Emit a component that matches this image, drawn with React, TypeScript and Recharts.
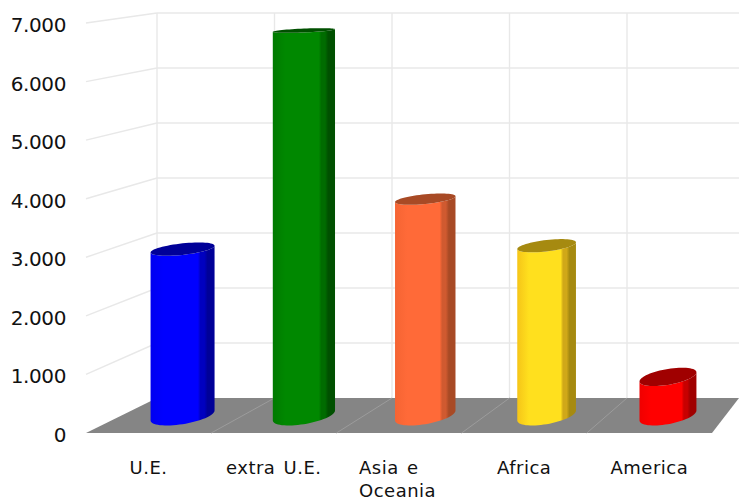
import { BarChart, Bar, XAxis, YAxis, CartesianGrid } from "recharts";

const categories = ["U.E.", "extra U.E.", "Asia e\nOceania", "Africa", "America"];
const values = [2930, 6780, 3810, 2990, 680];
const yTicks = [0, 1000, 2000, 3000, 4000, 5000, 6000, 7000];

const lightColors = ["#0000f0", "#007a00", "#f56433", "#f5c518", "#f00000"];
const mainColors = ["#0000ff", "#008800", "#ff6a38", "#ffe01e", "#ff0000"];
const midColors = ["#0000c0", "#006c00", "#d05a30", "#d0a818", "#c80000"];
const darkColors = ["#000098", "#005000", "#a84a25", "#a68a10", "#a00000"];

const chartData = categories.map((name, i) => ({ name, value: values[i] }));

const W = 739;
const H = 501;
const LEFT = 86;
const RIGHT = 712;
const TOP = 23;
const BOTTOM = 433;

// back wall, the front plane is what the axes scale to
const BACK_LEFT = 157;
const BACK_TOP = 13;
const BACK_BOTTOM = 398;
const BACK_STEP = 117.5;
const FRONT_STEP = (RIGHT - LEFT) / categories.length;

const GRID = "#e8e8e8";

const backY = (y: number) =>
    BACK_TOP + ((y - TOP) / (BOTTOM - TOP)) * (BACK_BOTTOM - BACK_TOP);

function WallLine({ y1 }: any) {
    const by = backY(y1);
    if (Math.abs(y1 - BOTTOM) < 1) {
        return (
            <polygon
                points={`${LEFT},${BOTTOM} ${RIGHT},${BOTTOM} ${W},${BACK_BOTTOM} ${BACK_LEFT},${BACK_BOTTOM}`}
                fill="#858585"
            />
        );
    }
    return (
        <g>
            <line x1={LEFT} y1={y1} x2={BACK_LEFT} y2={by} stroke={GRID} strokeWidth={1.4} />
            <line x1={BACK_LEFT} y1={by} x2={W} y2={by} stroke={GRID} strokeWidth={1.4} />
        </g>
    );
}

function WallColumn({ x1 }: any) {
    const edge = x1 - FRONT_STEP / 2;
    const backX = BACK_LEFT + ((edge - LEFT) * BACK_STEP) / FRONT_STEP;
    return (
        <g>
            <line x1={backX} y1={BACK_TOP} x2={backX} y2={BACK_BOTTOM} stroke={GRID} strokeWidth={1.4} />
            {edge > LEFT + 1 && <line x1={edge} y1={BOTTOM} x2={backX} y2={BACK_BOTTOM} stroke="#9c9c9c" />}
        </g>
    );
}

function YTick({ y, payload }: any) {
    return (
        <text x={66} y={y + 9} textAnchor="end" fontFamily="DejaVu Sans" fontSize={20} letterSpacing={-0.4} fill="#111">
            {payload.value.toLocaleString("de-DE")}
        </text>
    );
}

function XTick({ x, payload }: any) {
    const lines = String(payload.value).split("\n");
    return (
        <g>
            {lines.map((line, i) => (
                <text
                    key={line}
                    x={lines.length > 1 ? x - 40 : x}
                    y={474 + i * 23}
                    textAnchor={lines.length > 1 ? "start" : "middle"}
                    fontFamily="DejaVu Sans"
                    fontSize={18}
                    letterSpacing={0.5}
                    wordSpacing={2}
                    fill="#111"
                >
                    {line}
                </text>
            ))}
        </g>
    );
}

// half of a sheared ellipse, so the sides of the cylinder stay vertical
function arcPoints(cx: number, cy: number, rx: number, from: number, to: number) {
    const ry = 1.4 + cy * 0.0175;
    const shear = 1 + cy * 0.0095;
    const pts: string[] = [];
    for (let k = 0; k <= 32; k++) {
        const t = from + ((to - from) * k) / 32;
        pts.push(`${(cx + rx * Math.cos(t)).toFixed(2)},${(cy + ry * Math.sin(t) - shear * Math.cos(t)).toFixed(2)}`);
    }
    return pts;
}

function Cylinder({ x, y, width, height, index }: any) {
    const frontCx = x + width / 2;
    const backCx = BACK_LEFT + ((frontCx - LEFT) * BACK_STEP) / FRONT_STEP;
    const cx = (frontCx + backCx) / 2;
    const rx = (width * (1 - (frontCx - 148) * 0.00022)) / 2;
    const baseY = (BOTTOM + BACK_BOTTOM) / 2;
    const topY = baseY - (height * (BOTTOM - TOP + BACK_BOTTOM - BACK_TOP)) / 2 / (BOTTOM - TOP);
    const topLower = arcPoints(cx, topY, rx, 0, Math.PI);
    const baseLower = arcPoints(cx, baseY, rx, Math.PI, 0);
    const topUpper = arcPoints(cx, topY, rx, Math.PI, 2 * Math.PI);
    return (
        <g>
            <path d={`M${baseLower.join("L")}L${topLower.join("L")}Z`} fill={`url(#cyl${index})`} />
            <path d={`M${topLower.join("L")}L${topUpper.join("L")}Z`} fill={darkColors[index]} />
        </g>
    );
}

export default function App() {
    return (
        <div style={{ position: "absolute", left: 0, top: 0, width: W, height: H, overflow: "hidden" }}>
            <BarChart
                width={W}
                height={H}
                data={chartData}
                margin={{ top: TOP, right: W - RIGHT, bottom: 0, left: 0 }}
                barSize={64}
            >
                <defs>
                    {categories.map((name, i) => (
                        <linearGradient key={name} id={`cyl${i}`} x1="0" y1="0" x2="1" y2="0">
                            <stop offset="0" stopColor={lightColors[i]} />
                            <stop offset="0.2" stopColor={mainColors[i]} />
                            <stop offset="0.74" stopColor={mainColors[i]} />
                            <stop offset="0.78" stopColor={midColors[i]} />
                            <stop offset="0.84" stopColor={midColors[i]} />
                            <stop offset="0.89" stopColor={darkColors[i]} />
                            <stop offset="1" stopColor={darkColors[i]} />
                        </linearGradient>
                    ))}
                </defs>
                <CartesianGrid horizontal={<WallLine />} vertical={<WallColumn />} syncWithTicks />
                <XAxis
                    dataKey="name"
                    interval={0}
                    height={H - BOTTOM}
                    axisLine={false}
                    tickLine={false}
                    tick={<XTick />}
                />
                <YAxis
                    domain={[0, 7000]}
                    ticks={yTicks}
                    width={LEFT}
                    interval={0}
                    axisLine={false}
                    tickLine={false}
                    tick={<YTick />}
                />
                <Bar dataKey="value" shape={<Cylinder />} isAnimationActive={false} />
            </BarChart>
        </div>
    );
}
